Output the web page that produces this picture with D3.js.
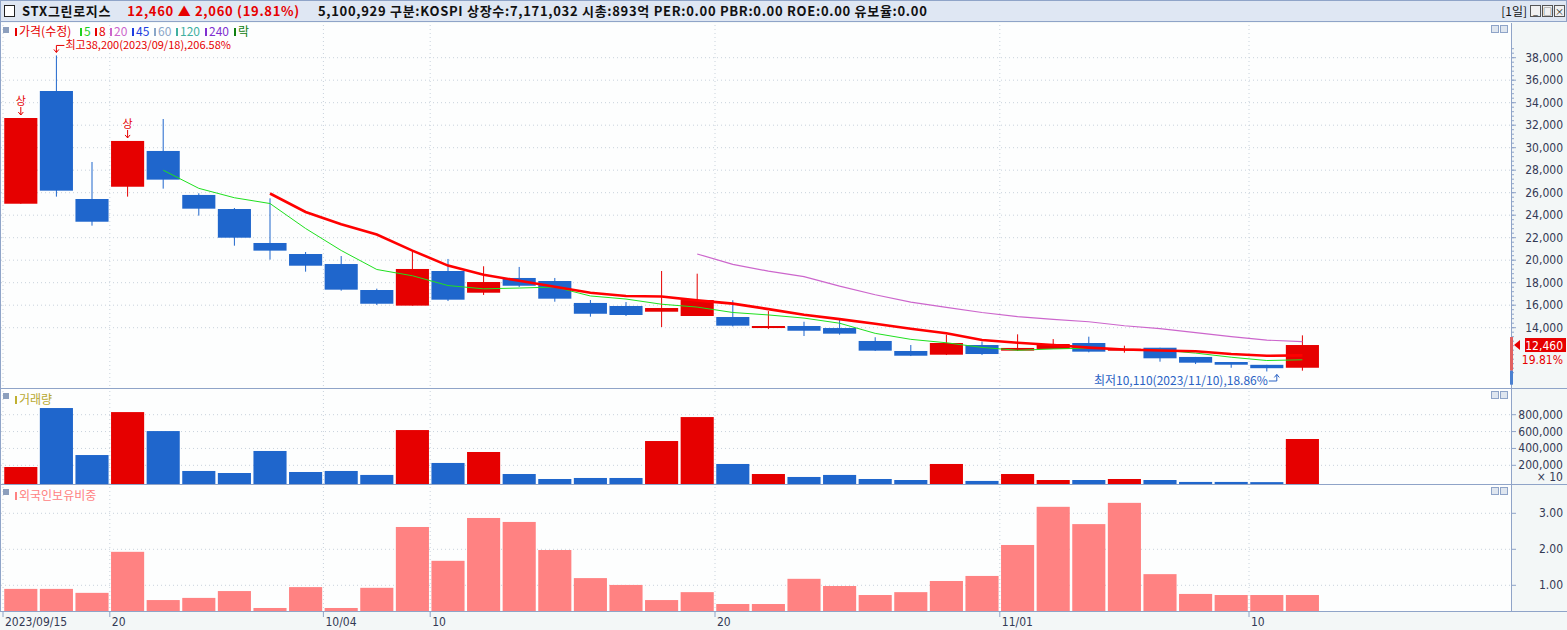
<!DOCTYPE html>
<html><head><meta charset="utf-8">
<script src="https://cdn.jsdelivr.net/npm/d3@7"></script>
<style>body{margin:0;background:#fff;}svg{display:block;font-family:"Noto Sans CJK KR","DejaVu Sans",sans-serif;}</style>
</head><body><svg id="c" width="1567" height="630"></svg>
<script>
const dates=["2023/09/15","09/18","09/19","09/20","09/21","09/22","09/25","09/26","09/27","10/04","10/05","10/06","10/10","10/11","10/12","10/13","10/16","10/17","10/18","10/19","10/20","10/23","10/24","10/25","10/26","10/27","10/30","10/31","11/01","11/02","11/03","11/06","11/07","11/08","11/09","11/10","11/13"];
const opens =[25020,35040,25440,26530,29710,25800,24550,21530,20550,19660,17350,15960,19040,17110,18420,18150,16200,15930,15420,15040,14950,13970,14150,13970,12820,11930,11600,12460,11960,12110,12640,11990,12220,11400,10950,10700,10440];
const highs =[32640,38200,28730,30600,32550,25950,24640,25500,20730,20370,17470,20820,20110,19460,19400,18420,16460,16280,19040,18800,16440,15480,14530,14770,13150,12460,13380,12760,13410,12990,13200,12400,12220,11400,10950,10700,13320];
const lows  =[25020,25650,23070,25650,26360,23960,21290,20050,18980,17290,16020,15960,16370,16910,17620,16310,14980,15040,14060,15040,14110,13880,13260,13380,11930,11480,11570,11570,11930,12110,11810,11780,10980,10770,10440,10110,10180];
const closes=[32640,26180,23420,30600,27160,24580,22000,20850,19510,17380,16130,19220,16490,18060,17730,16580,15240,15130,15750,16460,14180,14150,13730,13470,11960,11510,12640,11660,12200,12550,11870,12130,11280,10890,10710,10400,12460];
const volumes=[180000,879000,322000,831000,606000,133000,109000,370000,121000,133000,86000,618000,228000,358000,97000,38000,50000,50000,488000,772000,216000,97000,62000,86000,38000,26000,216000,15000,97000,26000,26000,38000,26000,3000,3000,1000,512000];
const foreign=[0.90,0.90,0.79,1.93,0.59,0.65,0.84,0.37,0.95,0.37,0.93,2.62,1.68,2.87,2.76,1.98,1.20,1.01,0.59,0.81,0.48,0.48,1.18,0.98,0.73,0.81,1.12,1.26,2.12,3.18,2.70,3.29,1.31,0.76,0.73,0.73,0.73];
const limitUp=[0,3];
const priceTicks=[14000,16000,18000,20000,22000,24000,26000,28000,30000,32000,34000,36000,38000];
const volTicks=[200000,400000,600000,800000];
const forTicks=[1,2,3];
const xTicks=[{i:0,t:"2023/09/15"},{i:3,t:"20"},{i:9,t:"10/04"},{i:12,t:"10"},{i:20,t:"20"},{i:28,t:"11/01"},{i:35,t:"10"}];
const maDefs=[{n:5,c:"#1fe01f",w:1},{n:8,c:"#ff0000",w:2.6},{n:20,c:"#cc66cc",w:1.2}];
const legendLabels=["가격(수정)","5","8","20","45","60","120","240","락"];

const svg=d3.select("#c");
const RED="#e60000",BLUE="#1f66cc",FRAME="#8fa4c8";
const L=1,R=1511;
const idx=d3.range(closes.length);
const x=d3.scaleBand().domain(idx).range([3,3+37*35.6]).paddingInner(0.07).paddingOuter(0.035);
const step=x.step(),bw=x.bandwidth();
const cx=i=>x(i)+bw/2;
const tickX=i=>x(i)-(step-bw)/2;

const P={top:23,bot:388}, V={top:389,bot:484}, F={top:485,bot:611};
svg.append("rect").attr("width",1567).attr("height",630).attr("fill","#f3f7f7");
[P,V,F].forEach(p=>svg.append("rect").attr("x",L).attr("y",p.top).attr("width",R-L).attr("height",p.bot-p.top).attr("fill","#fdfefe"));
const yP=d3.scaleLinear().domain([14000,38000]).range([327.7,57.7]);
const yV=d3.scaleLinear().domain([0,800000]).range([482.2,414.7]);
const yF=d3.scaleLinear().domain([0,3]).range([621.3,513.3]);

const grid=svg.append("g").attr("stroke","#c8d2dc").attr("stroke-dasharray","1,3");
priceTicks.forEach(v=>grid.append("line").attr("x1",L).attr("x2",R).attr("y1",yP(v)).attr("y2",yP(v)));
volTicks.forEach(v=>grid.append("line").attr("x1",L).attr("x2",R).attr("y1",yV(v)).attr("y2",yV(v)));
forTicks.forEach(v=>grid.append("line").attr("x1",L).attr("x2",R).attr("y1",yF(v)).attr("y2",yF(v)));
xTicks.forEach(d=>[P,V,F].forEach(p=>grid.append("line").attr("x1",tickX(d.i)).attr("x2",tickX(d.i)).attr("y1",p.top+2).attr("y2",p.bot)));

const cg=svg.append("g");
idx.forEach(i=>{
  const up=closes[i]>=opens[i], col=up?RED:BLUE;
  cg.append("line").attr("x1",cx(i)).attr("x2",cx(i)).attr("y1",yP(highs[i])).attr("y2",yP(lows[i])).attr("stroke",col).attr("stroke-width",1);
  const t=yP(Math.max(opens[i],closes[i])), b=yP(Math.min(opens[i],closes[i]));
  cg.append("rect").attr("x",x(i)).attr("width",bw).attr("y",t).attr("height",Math.max(2,b-t)).attr("fill",col);
});
maDefs.forEach(m=>{
  const pts=idx.filter(i=>i>=m.n-1).map(i=>[cx(i),yP(d3.mean(closes.slice(i-m.n+1,i+1)))]);
  svg.append("path").attr("d",d3.line()(pts)).attr("fill","none").attr("stroke",m.c).attr("stroke-width",m.w);
});
limitUp.forEach(i=>{
  const yy=yP(highs[i]);
  svg.append("text").attr("x",cx(i)).attr("y",yy-13).attr("text-anchor","middle").attr("font-size",11).attr("fill",RED).text("상");
  svg.append("path").attr("d",`M${cx(i)},${yy-11}V${yy-3}M${cx(i)-2.5},${yy-6}L${cx(i)},${yy-3}L${cx(i)+2.5},${yy-6}`).attr("stroke",RED).attr("fill","none");
});
const hi=d3.maxIndex(highs), lo=d3.minIndex(lows);
svg.append("path").attr("d",`M${cx(hi)},${yP(highs[hi])-3}V${yP(highs[hi])-10}H${cx(hi)+8}M${cx(hi)-2.5},${yP(highs[hi])-6}L${cx(hi)},${yP(highs[hi])-3}L${cx(hi)+2.5},${yP(highs[hi])-6}`).attr("stroke",RED).attr("fill","none");
svg.append("text").attr("x",cx(hi)+9).attr("y",yP(highs[hi])-6).attr("font-size",11).attr("fill",RED).text("최고38,200(2023/09/18),206.58%");
svg.append("text").attr("x",cx(lo)+1).attr("y",385).attr("text-anchor","end").attr("font-size",12).attr("fill","#2a62c4").text("최저10,110(2023/11/10),18.86%");
svg.append("path").attr("d",`M${cx(lo)+2},381H${cx(lo)+10}V${yP(lows[lo])+3}M${cx(lo)+7.5},${yP(lows[lo])+6}L${cx(lo)+10},${yP(lows[lo])+3}L${cx(lo)+12.5},${yP(lows[lo])+6}`).attr("stroke","#2a62c4").attr("fill","none");

idx.forEach(i=>{
  const up=closes[i]>=opens[i];
  svg.append("rect").attr("x",x(i)).attr("width",bw).attr("y",yV(volumes[i])).attr("height",V.bot-yV(volumes[i])).attr("fill",up?RED:BLUE);
});
idx.forEach(i=>svg.append("rect").attr("x",x(i)).attr("width",bw).attr("y",yF(foreign[i])).attr("height",F.bot-yF(foreign[i])).attr("fill","#ff8282"));

[P,V,F].forEach(p=>{svg.append("line").attr("x1",0).attr("x2",1567).attr("y1",p.bot+0.5).attr("y2",p.bot+0.5).attr("stroke",FRAME);
  svg.append("line").attr("x1",R+0.5).attr("x2",R+0.5).attr("y1",p.top).attr("y2",p.bot).attr("stroke",FRAME);
  svg.append("rect").attr("x",1491.5).attr("y",p.top+2.5).attr("width",7).attr("height",7).attr("fill","#dfe6ef").attr("stroke",FRAME);
  svg.append("rect").attr("x",1500.5).attr("y",p.top+2.5).attr("width",7).attr("height",7).attr("fill","#dfe6ef").attr("stroke",FRAME);
  svg.append("rect").attr("x",3).attr("y",p.top+4).attr("width",6).attr("height",6).attr("fill","#8c9fbd");
});
svg.append("line").attr("x1",0.5).attr("x2",0.5).attr("y1",22).attr("y2",611).attr("stroke",FRAME);

const minor=(scale,a,b,s)=>d3.range(a,b,s).forEach(v=>svg.append("line").attr("x1",R).attr("x2",R+3).attr("y1",scale(v)).attr("y2",scale(v)).attr("stroke",FRAME));
minor(yP,10000,39000,400);
const last=closes.length-1;
svg.append("rect").attr("x",R-1).attr("y",yP(closes[last])-8).attr("width",3).attr("height",yP(lows[last])-yP(closes[last])+8).attr("fill","#e06060");
svg.append("rect").attr("x",R-1).attr("y",yP(lows[last])).attr("width",3).attr("height",14).attr("fill","#4a80d0");
svg.append("path").attr("d",`M${R+3},${yP(closes[last])}l6,-5v10z`).attr("fill",RED);
svg.append("rect").attr("x",1525).attr("y",yP(closes[last])-7).attr("width",41).attr("height",14).attr("fill",RED);

const ax=svg.append("g").attr("font-size",12).attr("fill","#333a55").attr("font-family","'Liberation Sans Narrow','DejaVu Sans Condensed',sans-serif");
priceTicks.forEach(v=>{svg.append("line").attr("x1",R).attr("x2",R+5).attr("y1",yP(v)).attr("y2",yP(v)).attr("stroke",FRAME);
  ax.append("text").attr("x",1563).attr("y",yP(v)+4).attr("text-anchor","end").text(d3.format(",")(v));});
volTicks.forEach(v=>{svg.append("line").attr("x1",R).attr("x2",R+5).attr("y1",yV(v)).attr("y2",yV(v)).attr("stroke",FRAME);
  ax.append("text").attr("x",1563).attr("y",yV(v)+4).attr("text-anchor","end").text(d3.format(",")(v));});
ax.append("text").attr("x",1563).attr("y",481).attr("text-anchor","end").text("× 10");
forTicks.forEach(v=>{svg.append("line").attr("x1",R).attr("x2",R+5).attr("y1",yF(v)).attr("y2",yF(v)).attr("stroke",FRAME);
  ax.append("text").attr("x",1563).attr("y",yF(v)+4).attr("text-anchor","end").text(d3.format(".2f")(v));});
ax.append("text").attr("x",1563).attr("y",yP(closes[last])+5).attr("text-anchor","end").attr("fill","#fff").text(d3.format(",")(closes[last]));
ax.append("text").attr("x",1563).attr("y",yP(closes[last])+19).attr("text-anchor","end").attr("fill",RED).text("19.81%");

xTicks.forEach(d=>{svg.append("line").attr("x1",tickX(d.i)).attr("x2",tickX(d.i)).attr("y1",611).attr("y2",617).attr("stroke",FRAME);
  ax.append("text").attr("x",tickX(d.i)+2).attr("y",626).text(d.t);});

const legendColors=[RED,"#1fd01f",RED,"#cc66cc","#1e3ee0","#8aa6c8","#40b0a0","#8030d0","#108010"];
const wOf=s=>[...s].reduce((a,ch)=>a+(/[\u3131-\uD79D]/.test(ch)?12:(/[()]/.test(ch)?4.5:7)),0);
let lx=15;
const lg=svg.append("g").attr("font-size",12);
legendLabels.forEach((t0,k)=>{const c=legendColors[k];
  lg.append("rect").attr("x",lx).attr("y",28).attr("width",2).attr("height",8).attr("fill",c);
  lg.append("text").attr("x",lx+4).attr("y",36).attr("fill",c).text(t0);
  lx+=4+wOf(t0)+4;});
svg.append("rect").attr("x",15).attr("y",396).attr("width",2).attr("height",8).attr("fill","#c0b030");
svg.append("text").attr("x",19).attr("y",404).attr("font-size",12).attr("fill","#b8a830").text("거래량");
svg.append("rect").attr("x",15).attr("y",492).attr("width",2).attr("height",8).attr("fill","#ff8282");
svg.append("text").attr("x",19).attr("y",500).attr("font-size",12).attr("fill","#ff8282").text("외국인보유비중");

svg.append("rect").attr("x",0.5).attr("y",0.5).attr("width",1566).attr("height",21).attr("fill","#dfe7f3").attr("stroke",FRAME);
svg.append("rect").attr("x",4.5).attr("y",5.5).attr("width",10).attr("height",11).attr("fill","#fff").attr("stroke","#222");
const hd=svg.append("text").attr("x",22).attr("y",16).attr("font-size",13).attr("font-weight","bold").attr("letter-spacing",0.7);
hd.append("tspan").attr("fill","#111").text("STX그린로지스");
hd.append("tspan").attr("fill",RED).attr("dx",16).text("12,460 ▲ 2,060 (19.81%)");
hd.append("tspan").attr("fill","#111").attr("dx",18).text("5,100,929 구분:KOSPI 상장수:7,171,032 시총:893억 PER:0.00 PBR:0.00 ROE:0.00 유보율:0.00");
svg.append("text").attr("x",1527).attr("y",16).attr("font-size",12).attr("fill","#111").attr("text-anchor","end").text("[1일]");
[1530,1542,1554].forEach((bx,k)=>{svg.append("rect").attr("x",bx+0.5).attr("y",5.5).attr("width",10).attr("height",11).attr("fill","#f0f0f0").attr("stroke","#555");
  svg.append("text").attr("x",bx+5.5).attr("y",15).attr("text-anchor","middle").attr("font-size",9).attr("fill","#111").text(["_","□","×"][k]);});
</script></body></html>
